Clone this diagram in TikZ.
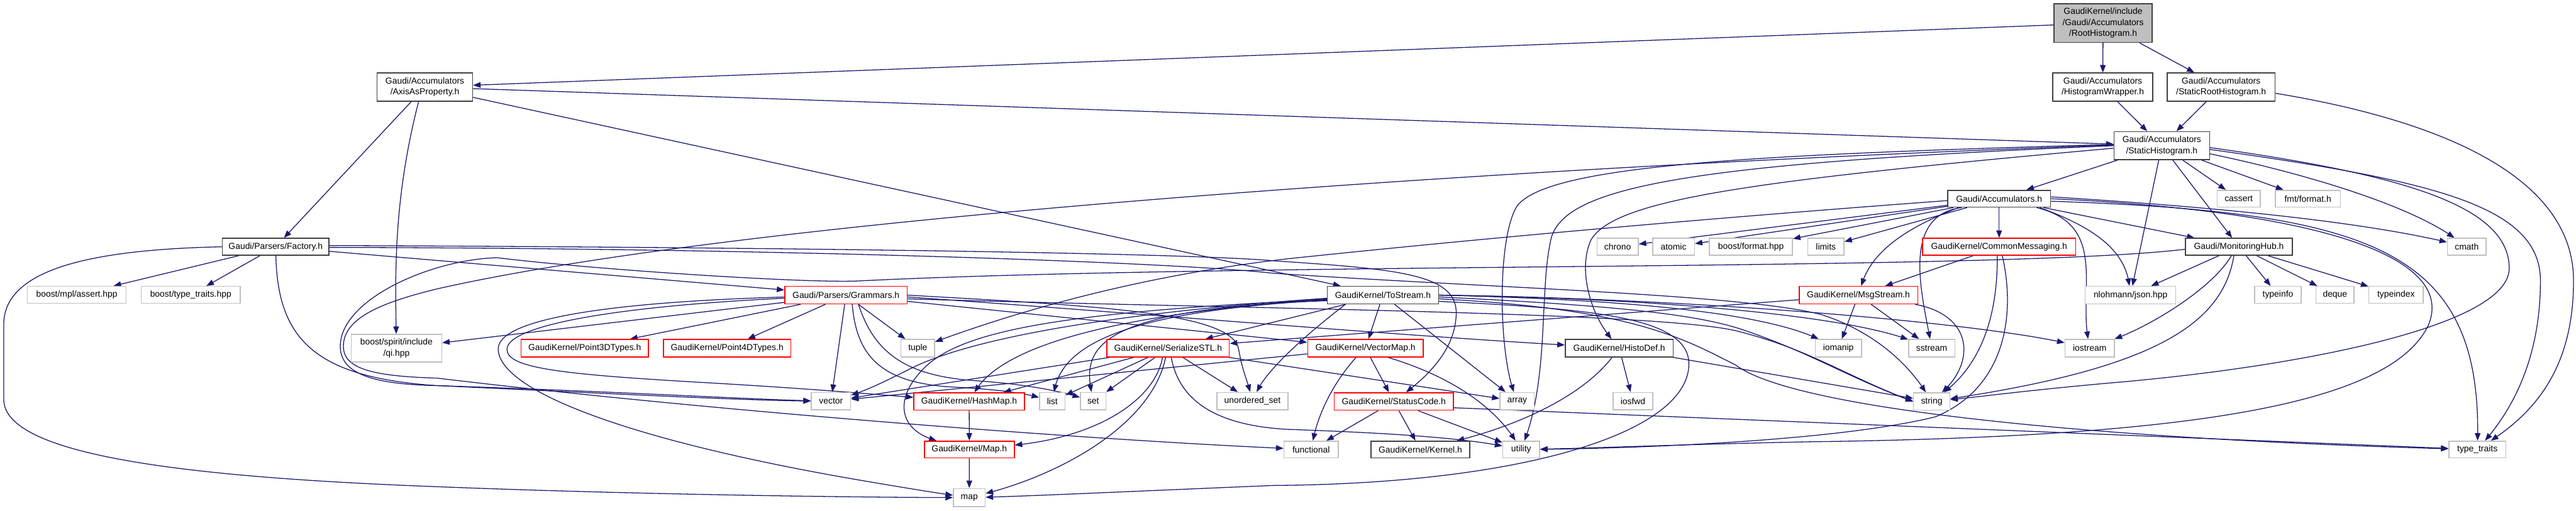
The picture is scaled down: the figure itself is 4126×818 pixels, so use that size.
\documentclass[tikz,border=0pt]{standalone}
\usepackage{fontspec}
\setmainfont{Liberation Sans}
\usetikzlibrary{arrows.meta,bending}
\definecolor{edgeblue}{HTML}{191970}
\definecolor{nodegray}{HTML}{BFBFBF}
\definecolor{nodedark}{HTML}{404040}
\pgfdeclarelayer{bg}
\pgfsetlayers{bg,main}
\newcommand\mkn[7]{\node[#6,minimum width=#4pt,minimum height=#5pt] (#1) at (#2,#3) {#7};}
\begin{document}
\begin{tikzpicture}[x=1pt,y=-1pt,
  font=\fontsize{14}{17.5}\selectfont,
  box/.style={rectangle,inner sep=0pt,align=center,line width=1.5pt,fill=white},
  sysnode/.style={box,draw=nodegray},
  docnode/.style={box,draw=nodedark},
  trunc/.style={box,draw=red},
  rootnode/.style={box,draw=nodedark,fill=nodegray},
  e/.style={draw=edgeblue,line width=1.3pt,-{Triangle[length=12pt,width=9pt]}}]
\useasboundingbox (0,0) rectangle (4126,818);
% nodes
\mkn{R}{3368.5}{37}{157}{62}{rootnode}{GaudiKernel/include\\/Gaudi/Accumulators\\/RootHistogram.h}
\mkn{AP}{680.5}{139.5}{153}{45}{docnode}{Gaudi/Accumulators\\/AxisAsProperty.h}
\mkn{HW}{3368}{139.5}{160}{45}{docnode}{Gaudi/Accumulators\\/HistogramWrapper.h}
\mkn{SRH}{3557.5}{139.5}{173}{45}{docnode}{Gaudi/Accumulators\\/StaticRootHistogram.h}
\mkn{SH}{3462.5}{233.5}{153}{45}{docnode}{Gaudi/Accumulators\\/StaticHistogram.h}
\mkn{AC}{3202}{318.5}{165}{27}{docnode}{Gaudi/Accumulators.h}
\mkn{FA}{441.5}{395.5}{171}{27}{docnode}{Gaudi/Parsers/Factory.h}
\mkn{BMA}{123}{472.5}{158}{27}{sysnode}{boost/mpl/assert.hpp}
\mkn{BTT}{305.5}{472.5}{159}{27}{sysnode}{boost/type\_traits.hpp}
\mkn{QI}{635}{558}{145}{44}{sysnode}{boost/spirit/include\\/qi.hpp}
\mkn{GR}{1355}{473}{196}{28}{trunc}{Gaudi/Parsers/Grammars.h}
\mkn{P3}{936.5}{558}{204}{28}{trunc}{GaudiKernel/Point3DTypes.h}
\mkn{P4}{1164.6}{558}{204}{28}{trunc}{GaudiKernel/Point4DTypes.h}
\mkn{VEC}{1331}{643}{63}{28}{sysnode}{vector}
\mkn{TU}{1470}{558}{54}{28}{sysnode}{tuple}
\mkn{SS}{1871}{558}{196}{28}{trunc}{GaudiKernel/SerializeSTL.h}
\mkn{HM}{1552.3}{643.5}{177}{28}{trunc}{GaudiKernel/HashMap.h}
\mkn{LI}{1685.5}{643}{41}{28}{sysnode}{list}
\mkn{SE}{1751}{643}{41}{28}{sysnode}{set}
\mkn{US}{2006}{643}{114}{28}{sysnode}{unordered\_set}
\mkn{MA}{1552.6}{720.5}{144}{27}{trunc}{GaudiKernel/Map.h}
\mkn{MP}{1552.5}{797.5}{51}{29}{sysnode}{map}
\mkn{TS}{2215}{473}{178}{28}{docnode}{GaudiKernel/ToStream.h}
\mkn{VM}{2187}{558}{185}{28}{trunc}{GaudiKernel/VectorMap.h}
\mkn{SC}{2232.5}{643.5}{191}{28}{trunc}{GaudiKernel/StatusCode.h}
\mkn{AR}{2430}{643}{55}{28}{sysnode}{array}
\mkn{HD}{2593.5}{558}{173}{28}{docnode}{GaudiKernel/HistoDef.h}
\mkn{IO}{2615.5}{643}{63}{28}{sysnode}{iosfwd}
\mkn{FU}{2100}{720.5}{87}{27}{sysnode}{functional}
\mkn{KE}{2275}{720.5}{158}{27}{docnode}{GaudiKernel/Kernel.h}
\mkn{UT}{2436.5}{720.5}{59}{27}{sysnode}{utility}
\mkn{CH}{2591}{395.5}{66}{27}{sysnode}{chrono}
\mkn{AT}{2680.5}{395.5}{67}{27}{sysnode}{atomic}
\mkn{BF}{2804.5}{395.5}{133}{27}{sysnode}{boost/format.hpp}
\mkn{LM}{2924.5}{395.5}{58}{27}{sysnode}{limits}
\mkn{CM}{3202}{395.5}{245}{27}{trunc}{GaudiKernel/CommonMessaging.h}
\mkn{MS}{2976.7}{473}{190}{28}{trunc}{GaudiKernel/MsgStream.h}
\mkn{IM}{2944.5}{558}{74}{28}{sysnode}{iomanip}
\mkn{SST}{3094}{558}{74}{28}{sysnode}{sstream}
\mkn{IOS}{3347}{558}{79}{28}{sysnode}{iostream}
\mkn{ST}{3094}{643.5}{58}{28}{sysnode}{string}
\mkn{NJ}{3412.5}{473}{145}{28}{sysnode}{nlohmann/json.hpp}
\mkn{MH}{3586}{395.5}{171}{27}{docnode}{Gaudi/MonitoringHub.h}
\mkn{CA}{3585.7}{318.5}{69}{27}{sysnode}{cassert}
\mkn{FF}{3696.5}{318.5}{104}{27}{sysnode}{fmt/format.h}
\mkn{CMA}{3951}{395.5}{62}{27}{sysnode}{cmath}
\mkn{TI}{3648.5}{472.5}{75}{27}{sysnode}{typeinfo}
\mkn{DQ}{3740}{472.5}{61}{27}{sysnode}{deque}
\mkn{TX}{3837.7}{472.5}{87}{27}{sysnode}{typeindex}
\mkn{TT}{3968}{720.5}{91}{27}{sysnode}{type\_traits}
\begin{pgfonlayer}{bg}
\fill[white] (0,0) rectangle (4126,818);
% root
\draw[e] (R) -- (AP);
\draw[e] (R) -- (HW);
\draw[e] (R) -- (SRH);
% AxisAsProperty
\draw[e] (AP) -- (FA);
\draw[e] ([xshift=-10pt]AP.south) .. controls (630,320) and (633,440) .. (QI);
\draw[e] (AP) -- (SH);
\draw[e] (AP) -- (TS);
% wrappers
\draw[e] (HW) -- (SH);
\draw[e] (SRH) -- (SH);
\draw[e] ([yshift=-10pt]SRH.east) .. controls (3950,200) and (4122,300) .. (4122,450) .. controls (4122,590) and (4060,660) .. (TT);
% StaticHistogram
\draw[e] (SH) -- (AC);
\draw[e] (SH) -- (MH);
\draw[e] (SH) -- (CA);
\draw[e] (SH) -- (FF);
\draw[e] (SH) -- (NJ);
\draw[e] ([yshift=-13pt]SH.east) .. controls (3700,280) and (3860,330) .. (CMA);
\draw[e] ([yshift=-6pt]SH.east) .. controls (3900,290) and (4069,330) .. (4069,450) .. controls (4069,580) and (4020,660) .. (TT);
\draw[e] ([yshift=-3pt]SH.east) .. controls (3850,280) and (4019,330) .. (4019,430) .. controls (4019,520) and (3700,585) .. (3400,612) .. controls (3250,625) and (3180,635) .. (ST);
\draw[e] ([yshift=2pt]SH.west) .. controls (2800,248) and (2480,265) .. (2430,330) .. controls (2398,380) and (2400,560) .. (AR);
\draw[e] (SH.west) .. controls (2700,262) and (2510,300) .. (2485,380) .. controls (2465,460) and (2482,600) .. (UT);
\draw[e] ([yshift=-4pt]SH.west) .. controls (2800,290) and (2585,320) .. (2548,385) .. controls (2528,430) and (2545,500) .. (HD);
\draw[e] ([yshift=1pt]SH.west) .. controls (2400,268) and (1200,350) .. (700,463) .. controls (610,485) and (550,510) .. (550,555) .. controls (550,592) and (600,603) .. (700,606) .. controls (1150,660) and (1750,705) .. (FU);
% Accumulators
\draw[e] (AC) -- (CH);
\draw[e] (AC) -- (AT);
\draw[e] (AC) -- (BF);
\draw[e] (AC) -- (LM);
\draw[e] (AC) -- (CM);
\draw[e] ([xshift=-65pt]AC.south) .. controls (3040,370) and (2995,410) .. (MS);
\draw[e] (AC) -- (MH);
\draw[e] ([xshift=65pt]AC.south) .. controls (3370,370) and (3405,410) .. (NJ);
\draw[e] ([xshift=60pt]AC.south) .. controls (3375,360) and (3330,460) .. (IOS);
\draw[e] ([xshift=-60pt]AC.south) .. controls (3045,345) and (3078,470) .. (SST);
\draw[e] ([yshift=3pt]AC.east) .. controls (3600,335) and (3800,360) .. (CMA);
\draw[e] ([yshift=-4pt]AC.east) .. controls (3800,340) and (3975,400) .. (TT);
\draw[e] (AC.east) .. controls (3750,340) and (3930,420) .. (3890,520) .. controls (3830,650) and (3500,700) .. (2900,708) .. controls (2700,712) and (2560,718) .. (UT);
\draw[e] ([yshift=-3pt]AC.west) .. controls (2600,360) and (2250,395) .. (2060,415) .. controls (1800,445) and (1600,510) .. (TU);
% CommonMessaging
\draw[e] (CM) -- (MS);
\draw[e] ([xshift=-3pt]CM.south) .. controls (3200,520) and (3165,590) .. (ST);
\draw[e] ([xshift=5pt]CM.south) .. controls (3228,500) and (3215,620) .. (3100,668) .. controls (2950,705) and (2650,718) .. (UT);
% MsgStream
\draw[e] (MS) -- (IM);
\draw[e] (MS) -- (SST);
\draw[e] ([xshift=-5pt]MS.south east) .. controls (3160,505) and (3165,580) .. (ST);
\draw[e] (MS) -- (SS);
% MonitoringHub
\draw[e] (MH) -- (NJ);
\draw[e] (MH) -- (TI);
\draw[e] (MH) -- (DQ);
\draw[e] (MH) -- (TX);
\draw[e] ([xshift=-12pt]MH.south) .. controls (3545,460) and (3450,520) .. (IOS);
\draw[e] ([xshift=-8pt]MH.south) .. controls (3560,520) and (3450,590) .. (ST);
\draw[e] ([yshift=-4pt]MH.west) .. controls (3200,435) and (2000,420) .. (1380,450) .. controls (1300,455) and (950,432) .. (796,413) .. controls (690,416) and (545,480) .. (545,555) .. controls (545,600) and (600,616) .. (700,618) .. controls (1000,628) and (1200,640) .. (VEC);
% Factory
\draw[e] (FA) -- (GR);
\draw[e] (FA) -- (BMA);
\draw[e] (FA) -- (BTT);
\draw[e] (FA.west) .. controls (150,400) and (6,430) .. (6,520) -- (6,640) .. controls (6,730) and (300,765) .. (700,780) .. controls (1000,792) and (1350,797) .. (MP);
\draw[e] (FA) .. controls (445,540) and (500,605) .. (700,618) .. controls (1000,632) and (1200,642) .. (VEC);
\draw[e] ([yshift=2pt]FA.east) .. controls (1200,396) and (1900,405) .. (2040,418) .. controls (2250,432) and (2340,440) .. (2332,510) .. controls (2328,560) and (2290,600) .. (SC);
\draw[e] ([yshift=-1pt]FA.east) .. controls (1300,398) and (1900,422) .. (2040,438) .. controls (2400,462) and (2800,472) .. (2920,505) .. controls (3010,535) and (3060,590) .. (ST);
% Grammars
\draw[e] (GR) -- (QI);
\draw[e] (GR) -- (P3);
\draw[e] (GR) -- (P4);
\draw[e] (GR) -- (VEC);
\draw[e] (GR) -- (TU);
\draw[e] ([xshift=10pt]GR.south) .. controls (1372,570) and (1410,612) .. (1520,620) .. controls (1600,624) and (1640,630) .. (LI);
\draw[e] ([xshift=20pt]GR.south) .. controls (1400,565) and (1450,602) .. (1560,610) .. controls (1650,616) and (1700,628) .. (SE);
\draw[e] ([yshift=-5pt]GR.west) .. controls (1000,490) and (812,520) .. (812,560) .. controls (812,590) and (900,600) .. (1126,613) .. controls (1300,623) and (1400,632) .. (HM);
\draw[e] ([yshift=-3pt]GR.west) .. controls (950,485) and (796,515) .. (798,560) .. controls (800,625) and (1000,705) .. (1380,770) .. controls (1450,782) and (1500,790) .. (MP);
\draw[e] (GR.east) .. controls (1750,490) and (1975,500) .. (1984,560) .. controls (1990,595) and (1998,610) .. (US);
\draw[e] (GR) -- (VM);
\draw[e] ([yshift=-3pt]GR.east) .. controls (1800,500) and (2200,535) .. (HD);
\draw[e] ([yshift=-6pt]GR.east) .. controls (2000,495) and (2650,500) .. (2780,530) .. controls (2900,560) and (2950,600) .. (ST.west);
% ToStream
\draw[e] (TS) -- (SS);
\draw[e] (TS) -- (VM);
\draw[e] (TS) -- (AR);
\draw[e] ([yshift=-5pt]TS.west) .. controls (1800,500) and (1560,540) .. (1460,590) .. controls (1420,610) and (1390,625) .. (VEC);
\draw[e] ([yshift=-6pt]TS.west) .. controls (1760,505) and (1600,560) .. (HM);
\draw[e] ([yshift=-7pt]TS.west) .. controls (1700,500) and (1540,530) .. (1480,590) .. controls (1430,640) and (1440,690) .. (MA);
\draw[e] ([yshift=-8pt]TS.west) .. controls (1780,500) and (1700,560) .. (LI);
\draw[e] ([yshift=-9pt]TS.west) .. controls (1750,495) and (1735,560) .. (SE);
\draw[e] ([xshift=-60pt]TS.south) .. controls (2100,530) and (2030,590) .. (US);
\draw[e] (TS.east) .. controls (2600,480) and (2820,500) .. (IM);
\draw[e] (TS.east) .. controls (2650,478) and (2950,505) .. (SST);
\draw[e] (TS.east) .. controls (2700,478) and (3150,515) .. (IOS);
\draw[e] ([yshift=-3pt]TS.east) .. controls (2600,490) and (2720,505) .. (2790,528) .. controls (2900,565) and (2960,605) .. (ST.west);
\draw[e] ([yshift=-6pt]TS.east) .. controls (2620,495) and (2700,545) .. (2780,585) .. controls (2880,660) and (3400,705) .. (TT);
\draw[e] ([yshift=-10pt]TS.east) .. controls (2560,495) and (2700,510) .. (2705,580) .. controls (2710,690) and (2450,775) .. (2040,778) .. controls (1800,788) and (1650,795) .. (MP);
% SerializeSTL
\draw[e] (SS) -- (VEC);
\draw[e] (SS) -- (HM);
\draw[e] (SS) -- (LI);
\draw[e] (SS) -- (SE);
\draw[e] (SS) -- (US);
\draw[e] (SS) -- (AR);
\draw[e] ([xshift=-9pt]SS.south) .. controls (1850,640) and (1760,700) .. (MA);
\draw[e] ([xshift=-4pt]SS.south) .. controls (1845,680) and (1700,760) .. (MP);
\draw[e] ([xshift=5pt]SS.south) .. controls (1890,650) and (1960,682) .. (2060,688) .. controls (2200,693) and (2330,700) .. (UT);
% VectorMap
\draw[e] (VM) -- (VEC);
\draw[e] ([xshift=-15pt]VM.south) .. controls (2130,620) and (2110,670) .. (FU);
\draw[e] (VM) -- (SC);
\draw[e] ([xshift=36pt]VM.south) .. controls (2330,605) and (2395,655) .. (UT);
% StatusCode
\draw[e] (SC) -- (FU);
\draw[e] (SC) -- (KE);
\draw[e] (SC) -- (UT);
\draw[e] ([yshift=-10pt]SC.east) -- (TT);
% HistoDef
\draw[e] (HD) .. controls (2530,640) and (2420,685) .. (KE);
\draw[e] (HD) -- (IO);
\draw[e] (HD) -- (ST);
% maps
\draw[e] (HM) -- (MA);
\draw[e] (MA) -- (MP);
\end{pgfonlayer}
\end{tikzpicture}
\end{document}
